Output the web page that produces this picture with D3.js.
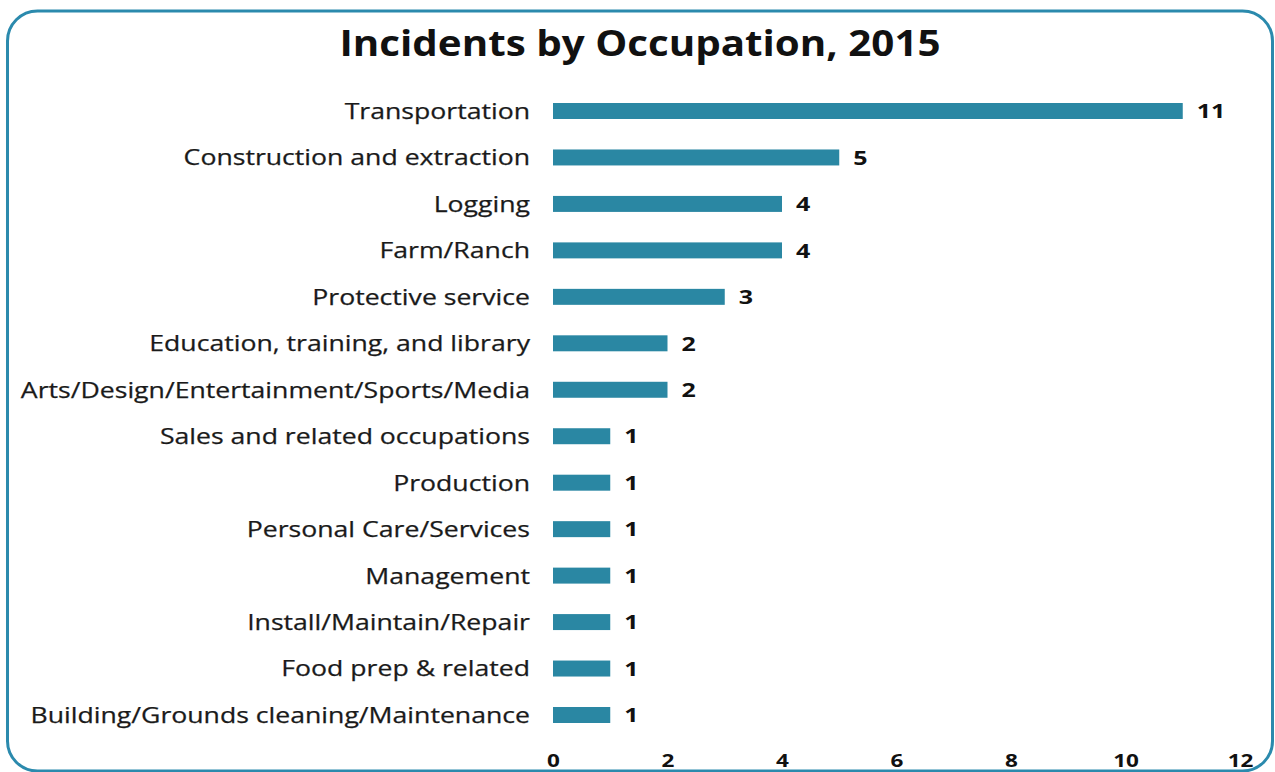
<!DOCTYPE html>
<html><head><meta charset="utf-8">
<script src="https://cdn.jsdelivr.net/npm/d3@7"></script>
<style>body{margin:0;background:#fff}svg{display:block}</style>
</head><body>
<svg id="c" width="1275" height="772"></svg>
<script>
const categories = ["Transportation","Construction and extraction","Logging","Farm/Ranch","Protective service","Education, training, and library","Arts/Design/Entertainment/Sports/Media","Sales and related occupations","Production","Personal Care/Services","Management","Install/Maintain/Repair","Food prep & related","Building/Grounds cleaning/Maintenance"];
const values = [11,5,4,4,3,2,2,1,1,1,1,1,1,1];
const xTicks = [0,2,4,6,8,10,12];
const title = "Incidents by Occupation, 2015";

const svg = d3.select("#c");
const teal = "#2a87a3";
const FONT = "Open Sans";
// stretch text horizontally like the reference
function stretch(sel, k) {
  sel.each(function(){
    const len = this.getComputedTextLength();
    d3.select(this).attr("textLength", len * k).attr("lengthAdjust","spacingAndGlyphs");
  });
}

svg.append("rect").attr("x",7.5).attr("y",11).attr("width",1265).attr("height",760)
  .attr("rx",30).attr("ry",30).attr("fill","#fff").attr("stroke","#2b8aad").attr("stroke-width",3);

svg.append("text").attr("x",640).attr("y",56).attr("text-anchor","middle")
  .attr("font-family",FONT).attr("font-weight",700).attr("font-size",36).attr("fill","#111").text(title)
  .call(stretch, 1.12);

const x = d3.scaleLinear().domain([0,12]).range([553,1240]);
const y = d3.scaleBand().domain(categories).range([87.77,738.23]).paddingInner(0.656).paddingOuter(0.328);

svg.selectAll("rect.bar").data(values).join("rect").attr("class","bar")
  .attr("x",x(0)).attr("y",(d,i)=>y(categories[i])).attr("width",d=>x(d)-x(0)).attr("height",y.bandwidth()).attr("fill",teal);

svg.selectAll("text.cat").data(categories).join("text").attr("class","cat")
  .attr("x",530).attr("y",d=>y(d)+y.bandwidth()/2).attr("dy","0.36em").attr("text-anchor","end")
  .attr("font-family",FONT).attr("font-size",22).attr("fill","#1a1a1a").attr("stroke","#1a1a1a").attr("stroke-width",0.25).text(d=>d)
  .call(stretch, 1.21);

svg.selectAll("text.val").data(values).join("text").attr("class","val")
  .attr("x",d=>x(d)+14).attr("y",(d,i)=>y(categories[i])+y.bandwidth()/2).attr("dy","0.36em")
  .attr("font-family",FONT).attr("font-weight",700).attr("font-size",20).attr("fill","#111").text(d=>d)
  .call(stretch, 1.25);

const ax = svg.append("g").attr("transform","translate(0,754)")
  .call(d3.axisBottom(x).tickValues(xTicks).tickSize(0).tickPadding(0));
ax.select(".domain").remove();
ax.selectAll("text").attr("font-family",FONT).attr("font-weight",700).attr("font-size",18).attr("fill","#111")
  .call(stretch, 1.25);
</script>
</body></html>
